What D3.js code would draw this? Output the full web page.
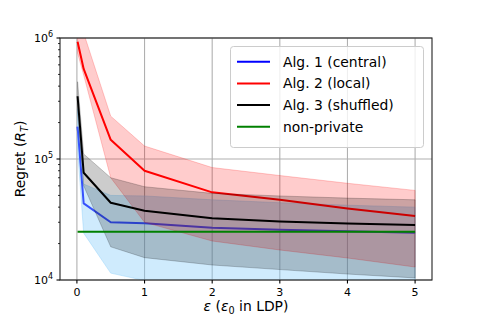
<!DOCTYPE html>
<html><head><meta charset="utf-8">
<script src="https://cdn.jsdelivr.net/npm/d3@7"></script>
<style>body{margin:0;background:#fff}svg{display:block;font-family:"DejaVu Sans",sans-serif}</style>
</head><body><svg id="c" width="480" height="320"></svg>
<script>
const epsValues = [0.01, 0.1, 0.5, 1, 2, 3, 4, 5];
const seriesNames = ["Alg. 1 (central)", "Alg. 2 (local)", "Alg. 3 (shuffled)", "non-private"];
const alg1Mean  = [185000, 43000, 30000, 29500, 27000, 26000, 25300, 24600];
const alg1Upper = [260000, 62000, 50000, 49500, 46000, 43500, 41500, 40000];
const alg1Lower = [120000, 24400, 11400, 9900, 9000, 8600, 8300, 8000];
const alg2Mean  = [930000, 555000, 144000, 80000, 53000, 46000, 39000, 33800];
const alg2Upper = [2000000, 1100000, 226000, 128000, 85000, 73000, 63000, 55000];
const alg2Lower = [750000, 494000, 70000, 30000, 21000, 17700, 15200, 12800];
const alg3Mean  = [330000, 77000, 43500, 37400, 32400, 30500, 29300, 28500];
const alg3Upper = [435000, 110000, 70000, 59000, 52000, 49500, 47500, 46000];
const alg3Lower = [240000, 60000, 18800, 15300, 13300, 12200, 11200, 10400];
const nonPrivate = [25000, 25000, 25000, 25000, 25000, 25000, 25000, 25000];
const xTicks = [0, 1, 2, 3, 4, 5];
const yTicks = [1e4, 1e5, 1e6];
const yTickExp = ["4", "5", "6"];

const svg = d3.select("#c");
const L = 60, R = 432, T = 38, B = 280;
const x = d3.scaleLinear().domain([-0.25, 5.25]).range([L, R]);
const y = d3.scaleLog().domain([1e4, 1e6]).range([B, T]);

svg.append("defs").append("clipPath").attr("id", "clip")
  .append("rect").attr("x", L).attr("y", T).attr("width", R - L).attr("height", B - T);

// grid
const grid = svg.append("g");
xTicks.forEach(t => grid.append("line").attr("x1", x(t)).attr("x2", x(t)).attr("y1", T).attr("y2", B)
  .attr("stroke", "#b0b0b0").attr("stroke-width", 1.1));
yTicks.forEach(t => grid.append("line").attr("x1", L).attr("x2", R).attr("y1", y(t)).attr("y2", y(t))
  .attr("stroke", "#b0b0b0").attr("stroke-width", 1.1));

const plot = svg.append("g").attr("clip-path", "url(#clip)");
const line = d3.line().x((d, i) => x(epsValues[i])).y(d => y(d));
const area = (lo, hi) => d3.area().x((d, i) => x(epsValues[i])).y0((d, i) => y(lo[i])).y1((d, i) => y(hi[i]))(epsValues);

const series = [
  {mean: alg1Mean, lo: alg1Lower, hi: alg1Upper, color: "#0000ff", fill: "#87cefa", op: 0.4},
  {mean: alg2Mean, lo: alg2Lower, hi: alg2Upper, color: "#ff0000", fill: "#ff0000", op: 0.2},
  {mean: alg3Mean, lo: alg3Lower, hi: alg3Upper, color: "#000000", fill: "#000000", op: 0.2}
];
series.forEach(s => {
  plot.append("path").attr("d", line(s.mean)).attr("fill", "none").attr("stroke", s.color)
    .attr("stroke-width", 2).attr("stroke-linejoin", "round");
  plot.append("path").attr("d", area(s.lo, s.hi)).attr("fill", s.fill).attr("fill-opacity", s.op)
    .attr("stroke", s.fill).attr("stroke-opacity", s.op).attr("stroke-width", 1);
});
plot.append("path").attr("d", line(nonPrivate)).attr("fill", "none").attr("stroke", "#008000").attr("stroke-width", 2);

// spines
const sp = svg.append("g").attr("stroke", "#222").attr("stroke-width", 1.1).attr("fill", "none");
sp.append("rect").attr("x", L).attr("y", T).attr("width", R - L).attr("height", B - T);

// x ticks
const xa = svg.append("g");
xTicks.forEach(t => {
  xa.append("line").attr("x1", x(t)).attr("x2", x(t)).attr("y1", B).attr("y2", B + 3.5).attr("stroke", "#000").attr("stroke-width", 1.1);
  xa.append("text").attr("x", x(t)).attr("y", B + 16).attr("text-anchor", "middle").attr("font-size", 11).text(t);
});
// y ticks
const ya = svg.append("g");
yTicks.forEach((t, i) => {
  ya.append("line").attr("x1", L - 3.5).attr("x2", L).attr("y1", y(t)).attr("y2", y(t)).attr("stroke", "#000").attr("stroke-width", 1.1);
  const tx = ya.append("text").attr("x", L - 7).attr("y", y(t) + 4).attr("text-anchor", "end").attr("font-size", 11);
  tx.append("tspan").text("10");
  tx.append("tspan").attr("dy", -5).attr("font-size", 8).text(yTickExp[i]);
});
[1e4, 1e5].forEach(base => {
  for (let k = 2; k <= 9; k++) {
    ya.append("line").attr("x1", L - 2).attr("x2", L).attr("y1", y(base * k)).attr("y2", y(base * k)).attr("stroke", "#000").attr("stroke-width", 0.8);
  }
});

// axis labels
const xl = svg.append("text").attr("x", (L + R) / 2).attr("y", 311).attr("text-anchor", "middle").attr("font-size", 13.9);
xl.append("tspan").attr("font-style", "italic").text("ε");
xl.append("tspan").text(" (");
xl.append("tspan").attr("font-style", "italic").text("ε");
xl.append("tspan").attr("font-size", 9.7).attr("dy", 3).text("0");
xl.append("tspan").attr("dy", -3).text(" in LDP)");

const yl = svg.append("text").attr("transform", `translate(25,${(T + B) / 2}) rotate(-90)`).attr("text-anchor", "middle").attr("font-size", 13.9);
yl.append("tspan").text("Regret (");
yl.append("tspan").attr("font-style", "italic").text("R");
yl.append("tspan").attr("font-style", "italic").attr("font-size", 9.7).attr("dy", 3).text("T");
yl.append("tspan").attr("dy", -3).text(")");

// legend
const lg = svg.append("g");
lg.append("rect").attr("x", 230.5).attr("y", 46.5).attr("width", 193).attr("height", 101).attr("rx", 3)
  .attr("fill", "#fff").attr("fill-opacity", 0.8).attr("stroke", "#cccccc").attr("stroke-width", 1);
const legColors = ["#0000ff", "#ff0000", "#000000", "#008000"];
seriesNames.forEach((n, i) => {
  const cy = 61.7 + i * 21.7;
  lg.append("line").attr("x1", 237).attr("x2", 270).attr("y1", cy).attr("y2", cy).attr("stroke", legColors[i]).attr("stroke-width", 2);
  lg.append("text").attr("x", 283).attr("y", cy + 5).attr("font-size", 13.9).text(n);
});
</script></body></html>
